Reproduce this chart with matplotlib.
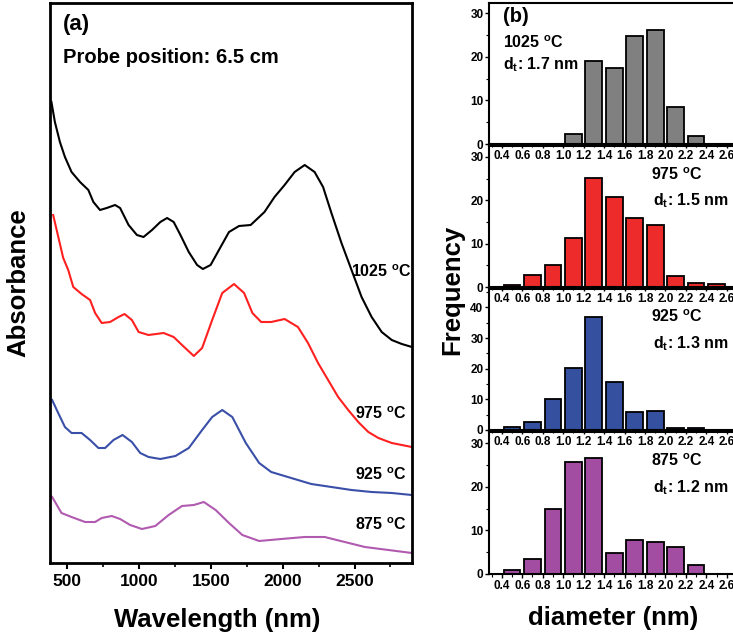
import matplotlib
matplotlib.use('Agg')
import matplotlib.pyplot as plt
from matplotlib.ticker import MultipleLocator

plt.rcParams['font.family'] = ['Liberation Sans', 'DejaVu Sans']
plt.rcParams['font.weight'] = 'bold'
plt.rcParams['mathtext.fontset'] = 'custom'
plt.rcParams['mathtext.rm'] = 'Liberation Sans:bold'
plt.rcParams['mathtext.bf'] = 'Liberation Sans:bold'
plt.rcParams['mathtext.it'] = 'Liberation Sans:bold'

# ---------------- (a) absorption spectra (arbitrary units) ----------------
wl_1025 = [390, 414, 449, 484, 530, 589, 647, 682, 728, 775, 833, 868, 927, 985,
           1031, 1090, 1148, 1195, 1241, 1288, 1346, 1404, 1444, 1498, 1556, 1626,
           1696, 1777, 1836, 1873, 1943, 2013, 2083, 2153, 2222, 2281, 2339, 2409,
           2479, 2549, 2619, 2689, 2759, 2829, 2899]
ab_1025 = [4.61, 4.41, 4.21, 4.06, 3.91, 3.81, 3.73, 3.61, 3.53, 3.55, 3.58, 3.55,
           3.38, 3.28, 3.26, 3.33, 3.41, 3.45, 3.41, 3.28, 3.11, 2.98, 2.94, 2.98,
           3.13, 3.31, 3.37, 3.38, 3.46, 3.51, 3.66, 3.78, 3.91, 3.98, 3.91, 3.76,
           3.50, 3.20, 2.93, 2.66, 2.46, 2.31, 2.23, 2.19, 2.16]

wl_975 = [402, 472, 507, 542, 600, 659, 694, 740, 798, 857, 899, 950, 997, 1066,
          1171, 1241, 1299, 1381, 1439, 1509, 1579, 1661, 1731, 1789, 1850, 1920,
          2013, 2106, 2176, 2246, 2316, 2386, 2456, 2526, 2596, 2666, 2759, 2899]
ab_975 = [3.48, 3.05, 2.93, 2.76, 2.69, 2.63, 2.50, 2.40, 2.41, 2.46, 2.49, 2.43,
          2.31, 2.28, 2.30, 2.26, 2.18, 2.07, 2.15, 2.43, 2.70, 2.79, 2.70, 2.50,
          2.41, 2.41, 2.44, 2.36, 2.20, 2.00, 1.83, 1.66, 1.53, 1.41, 1.31, 1.25,
          1.20, 1.16]

wl_925 = [395, 437, 484, 530, 600, 659, 717, 764, 822, 885, 950, 1008, 1066, 1148,
          1253, 1346, 1439, 1509, 1579, 1649, 1743, 1836, 1920, 2059, 2199, 2339,
          2479, 2619, 2759, 2899]
ab_925 = [1.63, 1.50, 1.36, 1.30, 1.30, 1.23, 1.15, 1.15, 1.23, 1.28, 1.21, 1.10,
          1.06, 1.04, 1.07, 1.15, 1.33, 1.46, 1.53, 1.46, 1.20, 1.00, 0.91, 0.85,
          0.79, 0.76, 0.73, 0.71, 0.70, 0.68]

wl_875 = [395, 460, 530, 624, 694, 740, 810, 868, 938, 1020, 1113, 1206, 1299, 1381,
          1451, 1533, 1626, 1719, 1836, 1990, 2153, 2292, 2432, 2572, 2736, 2899]
ab_875 = [0.66, 0.50, 0.46, 0.41, 0.41, 0.45, 0.47, 0.44, 0.38, 0.34, 0.37, 0.48,
          0.57, 0.58, 0.61, 0.53, 0.40, 0.28, 0.22, 0.24, 0.26, 0.26, 0.21, 0.16,
          0.13, 0.10]

spectra = [
    (wl_1025, ab_1025, '#000000', '1025 $^{\\mathbf{o}}$C', 2895, 2.91),
    (wl_975, ab_975, '#ff2020', '975 $^{\\mathbf{o}}$C', 2865, 1.49),
    (wl_925, ab_925, '#3a4fa8', '925 $^{\\mathbf{o}}$C', 2865, 0.88),
    (wl_875, ab_875, '#b05ab0', '875 $^{\\mathbf{o}}$C', 2865, 0.38),
]

# ---------------- (b) diameter histograms ----------------
diam = [0.5, 0.7, 0.9, 1.1, 1.3, 1.5, 1.7, 1.9, 2.1, 2.3, 2.5]
freq_1025 = [0, 0, 0, 2.3, 18.9, 17.4, 24.7, 26.2, 8.5, 1.9, 0]
freq_975 = [0.5, 2.8, 5.0, 11.2, 25.2, 20.8, 16.0, 14.2, 2.5, 0.85, 0.7]
freq_925 = [1.1, 2.6, 10.1, 20.1, 37.0, 15.5, 5.8, 6.1, 0.8, 0.7, 0]
freq_875 = [0.9, 3.4, 14.9, 25.7, 26.7, 4.8, 7.7, 7.3, 6.1, 2.0, 0]
temps = ['1025', '975', '925', '875']
dt_vals = ['1.7', '1.5', '1.3', '1.2']
xticks_b = [0.4, 0.6, 0.8, 1.0, 1.2, 1.4, 1.6, 1.8, 2.0, 2.2, 2.4, 2.6]

W, H = 733, 638
fig = plt.figure(figsize=(W / 100, H / 100), dpi=100)


def box(l, t, r, b):
    return [l / W, 1 - b / H, (r - l) / W, (b - t) / H]


# ---- panel (a)
ax = fig.add_axes(box(50, 3, 412, 563))
for wl, ab, c, lab, lx, ly in spectra:
    ax.plot(wl, ab, color=c, lw=1.5, solid_joinstyle='round')
    ax.text(lx, ly, lab, ha='right', va='center', fontsize=11.5, fontweight='bold')
ax.set_xlim(380, 2900)
ax.set_ylim(0, 5.6)
ax.set_yticks([])
ax.xaxis.set_major_locator(MultipleLocator(500))
ax.xaxis.set_minor_locator(MultipleLocator(250))
ax.tick_params(axis='x', which='major', direction='out', length=4, width=1.5,
               labelsize=12.5, pad=4)
ax.tick_params(axis='x', which='minor', direction='out', length=3, width=1.2)
for lbl in ax.get_xticklabels():
    lbl.set_fontweight('bold')
for s in ax.spines.values():
    s.set_linewidth(2)
fig.text(217 / W, 1 - 620 / H, 'Wavelength (nm)', ha='center', va='center',
         fontsize=18.5, fontweight='bold')
fig.text(18 / W, 1 - 283 / H, 'Absorbance', rotation=90, ha='center', va='center',
         fontsize=18.5, fontweight='bold')
ax.text(0.035, 0.98, '(a)', transform=ax.transAxes, fontsize=16, fontweight='bold',
        va='top')
ax.text(0.035, 0.92, 'Probe position: 6.5 cm', transform=ax.transAxes,
        fontsize=14.5, fontweight='bold', va='top')

# ---- panel (b)
hist = [
    (freq_1025, '#808080', 32.3, [0, 10, 20, 30], (3, 144)),
    (freq_975, '#ee2b2b', 32.5, [0, 10, 20, 30], (146, 287)),
    (freq_925, '#34509f', 46, [0, 10, 20, 30, 40], (289, 430)),
    (freq_875, '#a24ca2', 32.6, [0, 10, 20, 30], (432, 574)),
]
axes_b = []
for i, (fr, col, ymax, yt, (t, b)) in enumerate(hist):
    a = fig.add_axes(box(489, t, 736, b))
    a.bar(diam, fr, width=0.164, color=col, edgecolor='black', linewidth=1.3)
    a.set_xlim(0.275, 2.69)
    a.set_ylim(0, ymax)
    a.set_xticks(xticks_b)
    a.set_xticklabels(['%.1f' % v for v in xticks_b])
    a.xaxis.set_minor_locator(MultipleLocator(0.1))
    a.set_yticks(yt)
    a.yaxis.set_minor_locator(MultipleLocator(5))
    a.tick_params(axis='both', which='major', direction='out', length=3, width=1,
                  labelsize=8.5, pad=1)
    a.tick_params(axis='both', which='minor', direction='out', length=2, width=0.8)
    for lbl in a.get_xticklabels() + a.get_yticklabels():
        lbl.set_fontweight('bold')
    for s in a.spines.values():
        s.set_linewidth(1.5)
    a.patch.set_alpha(0)
    axes_b.append(a)

a0 = axes_b[0]
a0.text(0.057, 0.975, '(b)', transform=a0.transAxes, fontsize=14.5, fontweight='bold',
        va='top')
a0.text(0.057, 0.715, '1025 $^{\\mathbf{o}}$C', transform=a0.transAxes, fontsize=11.5,
        fontweight='bold', va='center')
a0.text(0.057, 0.56, 'd$_{\\mathbf{t}}$: 1.7 nm', transform=a0.transAxes, fontsize=11.5,
        fontweight='bold', va='center')
for a, tmp, dt in zip(axes_b[1:], temps[1:], dt_vals[1:]):
    a.text(0.655, 0.80, tmp + ' $^{\\mathbf{o}}$C', transform=a.transAxes,
           fontsize=11.5, fontweight='bold', va='center')
    a.text(0.665, 0.61, 'd$_{\\mathbf{t}}$: ' + dt + ' nm', transform=a.transAxes,
           fontsize=11.5, fontweight='bold', va='center')

fig.text(452 / W, 1 - 290 / H, 'Frequency', rotation=90, ha='center', va='center',
         fontsize=18.5, fontweight='bold')
fig.text(613 / W, 1 - 618 / H, 'diameter (nm)', ha='center', va='center',
         fontsize=18.5, fontweight='bold')

fig.savefig('out.png', dpi=100)
